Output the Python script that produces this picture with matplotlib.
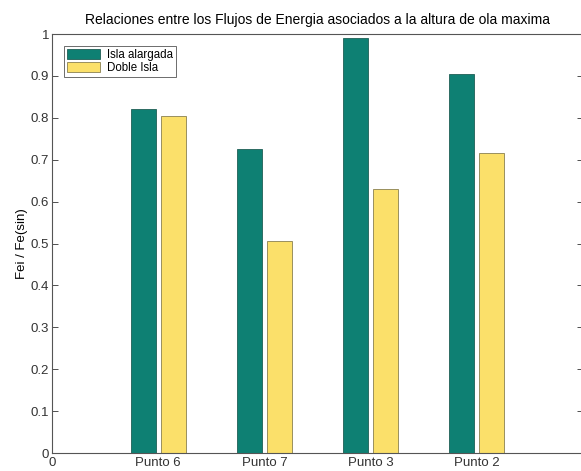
import numpy as np
import matplotlib
matplotlib.use("Agg")
import matplotlib.pyplot as plt

plt.rcParams['font.family'] = ['Liberation Sans', 'DejaVu Sans']

# datos
puntos = ['Punto 6', 'Punto 7', 'Punto 3', 'Punto 2']
isla_alargada = [0.82, 0.725, 0.99, 0.905]
doble_isla = [0.805, 0.505, 0.63, 0.715]

x = np.arange(1, len(puntos) + 1)
w = 0.235

fig = plt.figure(figsize=(5.81, 4.71), dpi=100)
ax = fig.add_axes([0.0895, 0.0382, 0.914, 0.8896])

ax.bar(x - 0.14, isla_alargada, w, color='#0e8073', edgecolor='#1f5f55',
       linewidth=0.6, label='Isla alargada')
ax.bar(x + 0.14, doble_isla, w, color='#fbe06a', edgecolor='#8a8050',
       linewidth=0.6, label='Doble Isla')

fs = 9.5
ax.set_xlim(0, 5)
ax.set_ylim(0, 1)
ax.set_xticks([0] + list(x))
ax.set_xticklabels(['0'] + puntos, fontsize=fs)
ax.set_yticks(np.arange(0, 1.01, 0.1))
ax.set_yticklabels(['0'] + ['%.1f' % v for v in np.arange(0.1, 0.95, 0.1)] + ['1'],
                   fontsize=fs)
ax.tick_params(direction='in', length=4, width=0.6, right=True, pad=2, colors='#333333')
ax.tick_params(axis='x', length=0, pad=3)
for s in ax.spines.values():
    s.set_linewidth(0.8)
    s.set_color('#555555')

ax.set_ylabel('Fei / Fe(sin)', fontsize=fs, labelpad=2)
ax.set_title('Relaciones entre los Flujos de Energia asociados a la altura de ola maxima',
             fontsize=10, pad=7)

leg = ax.legend(loc='upper left', fontsize=8.3, fancybox=False, framealpha=1,
                edgecolor='#555555', borderpad=0.25, handlelength=2.9, handleheight=0.9,
                handletextpad=0.6, labelspacing=0.1, bbox_to_anchor=(0.012, 0.985))
leg.get_frame().set_linewidth(0.6)

fig.savefig('out.png', dpi=100)
